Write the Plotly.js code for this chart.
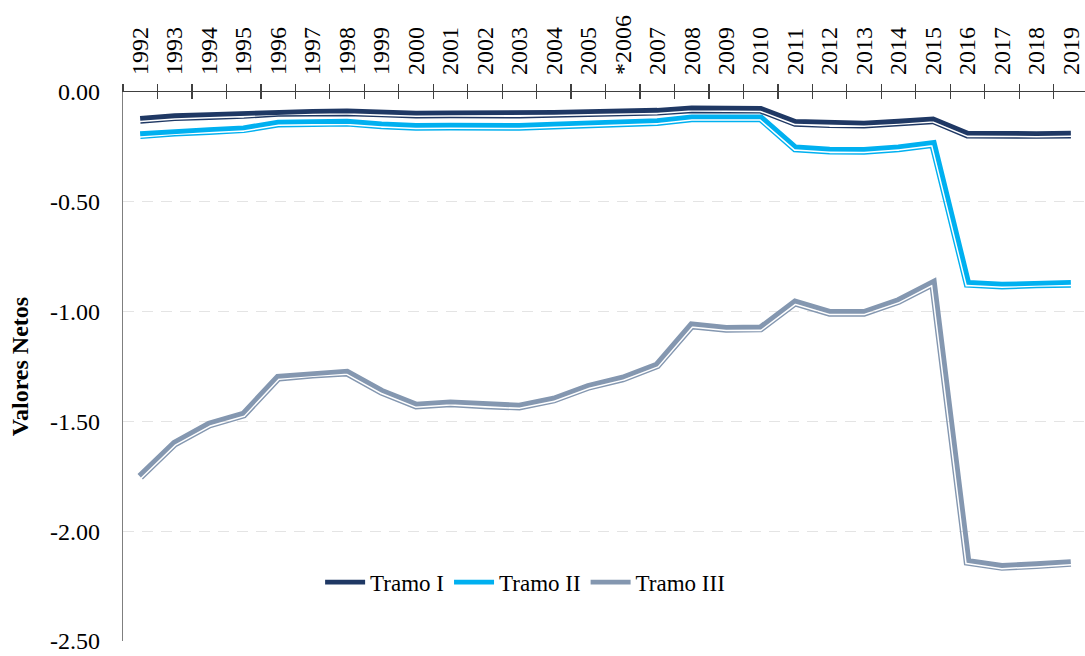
<!DOCTYPE html>
<html>
<head>
<meta charset="utf-8">
<script src="https://cdn.plot.ly/plotly-3.0.1.min.js"></script>
<style>html,body{margin:0;padding:0;background:#fff;}#chart{width:1085px;height:656px;}</style>
</head>
<body>
<div id="chart"></div>
<script>
const years = ["1992","1993","1994","1995","1996","1997","1998","1999","2000","2001","2002","2003","2004","2005","*2006","2007","2008","2009","2010","2011","2012","2013","2014","2015","2016","2017","2018","2019"];
const tramoI = [-0.127,-0.115,-0.110,-0.105,-0.095,-0.095,-0.093,-0.098,-0.103,-0.102,-0.103,-0.103,-0.100,-0.096,-0.094,-0.090,-0.079,-0.081,-0.081,-0.141,-0.147,-0.149,-0.140,-0.129,-0.194,-0.196,-0.196,-0.194];
const tramoII = [-0.197,-0.185,-0.178,-0.170,-0.144,-0.142,-0.140,-0.152,-0.159,-0.158,-0.159,-0.159,-0.153,-0.148,-0.142,-0.137,-0.120,-0.120,-0.120,-0.257,-0.267,-0.268,-0.257,-0.237,-0.874,-0.882,-0.876,-0.874];
const tramoIII = [-1.752,-1.601,-1.515,-1.469,-1.301,-1.287,-1.278,-1.365,-1.428,-1.418,-1.427,-1.433,-1.401,-1.343,-1.305,-1.245,-1.063,-1.079,-1.077,-0.959,-1.006,-1.006,-0.952,-0.871,-2.140,-2.163,-2.155,-2.145];
const seriesNames = ["Tramo I","Tramo II","Tramo III"];
const seriesColors = ["#1f3864","#00b0f0","#8497b0"];
const yTickVals = [0,-0.5,-1,-1.5,-2,-2.5];
const yTickText = ["0.00","-0.50","-1.00","-1.50","-2.00","-2.50"];

const FONT = "'Liberation Serif', 'Times New Roman', serif";

// geometry used only to build the compound "double line" look
const W = 1085, H = 656, ML = 123, MR = 0, MT = 92, MB = 15;
const xMin = -0.5, xMax = 27.41;
const sx = (W - ML - MR) / (xMax - xMin);
const sy = (H - MT - MB) / 2.5;
const idx = years.map((_, i) => i);
const bounds = years.map((_, i) => i - 0.5);

function offsetLine(vals, d) {
  const n = vals.length;
  const P = vals.map((v, i) => [i * sx, -v * sy]);
  const N = [];
  for (let i = 0; i < n - 1; i++) {
    const dx = P[i + 1][0] - P[i][0], dy = P[i + 1][1] - P[i][1];
    const L = Math.hypot(dx, dy);
    N.push([-dy / L, dx / L]);
  }
  const xs = [], ys = [];
  for (let i = 0; i < n; i++) {
    let m, k = 1;
    if (i === 0) m = N[0];
    else if (i === n - 1) m = N[n - 2];
    else {
      const a = N[i - 1], b = N[i];
      let mx = a[0] + b[0], my = a[1] + b[1];
      const ml = Math.hypot(mx, my) || 1;
      mx /= ml; my /= ml;
      m = [mx, my];
      const dot = mx * a[0] + my * a[1];
      k = Math.min(1 / Math.max(dot, 0.25), 4);
    }
    const px = P[i][0] + m[0] * k * d, py = P[i][1] + m[1] * k * d;
    xs.push(px / sx);
    ys.push(-py / sy);
  }
  return {x: xs, y: ys};
}

const data = [];
const all = [tramoI, tramoII, tramoIII];
all.forEach((vals, s) => {
  const thin = offsetLine(vals, 3.1);
  data.push({
    x: thin.x, y: thin.y, xaxis: 'x2', yaxis: 'y', type: 'scatter', mode: 'lines',
    line: {color: seriesColors[s], width: 1.4}, showlegend: false, hoverinfo: 'skip'
  });
});
all.forEach((vals, s) => {
  const thick = offsetLine(vals, -1.5);
  data.push({
    x: thick.x, y: thick.y, xaxis: 'x', yaxis: 'y', type: 'scatter', mode: 'lines',
    name: seriesNames[s], line: {color: seriesColors[s], width: 4.8}
  });
});

const layout = {
  width: W, height: H,
  margin: {l: ML, r: MR, t: MT, b: MB},
  paper_bgcolor: '#ffffff', plot_bgcolor: '#ffffff',
  font: {family: FONT, color: '#000000', size: 24},
  showlegend: true,
  legend: {
    orientation: 'h', x: 0.418, xanchor: 'center', y: 0.107, yanchor: 'middle',
    font: {family: FONT, size: 23, color: '#000000'}, bgcolor: 'rgba(0,0,0,0)', itemwidth: 40
  },
  xaxis: {
    range: [xMin, xMax], side: 'top', tickmode: 'array', tickvals: idx, ticktext: years,
    tickangle: -90, ticks: '', showline: true, linecolor: '#404040', linewidth: 1.3,
    showgrid: false, zeroline: false, tickfont: {family: FONT, size: 24, color: '#000000'},
    ticklabelstandoff: 11,
    minor: {tickmode: 'array', tickvals: bounds, ticks: 'outside', ticklen: 7,
            tickcolor: '#404040', tickwidth: 1.3, showgrid: false},
    fixedrange: true
  },
  xaxis2: {
    range: [xMin, xMax], overlaying: 'x', side: 'top', anchor: 'y', tickmode: 'array', tickvals: bounds,
    ticks: 'inside', ticklen: 7, tickcolor: '#404040', tickwidth: 1.3,
    showticklabels: false, showline: false, showgrid: false, zeroline: false, fixedrange: true
  },
  yaxis: {
    range: [-2.5, 0], tickmode: 'array', tickvals: yTickVals, ticktext: yTickText,
    ticks: '', showline: true, linecolor: '#7f7f7f', linewidth: 1.3,
    showgrid: true, gridcolor: '#e4e4e4', gridwidth: 1.3, griddash: '11px,8px',
    zeroline: false, tickfont: {family: FONT, size: 24, color: '#000000'}, ticklabelstandoff: 17,
    title: {text: 'Valores Netos', font: {family: FONT, size: 24, weight: 'bold', color: '#000000'}, standoff: 14},
    fixedrange: true
  }
};

Plotly.newPlot('chart', data, layout, {displayModeBar: false, staticPlot: true});
</script>
</body>
</html>
